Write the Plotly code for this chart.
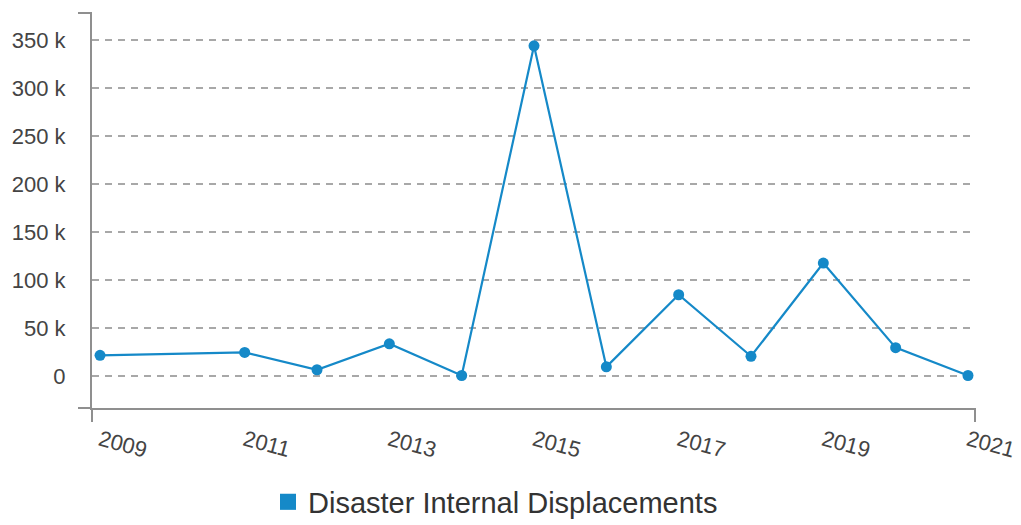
import plotly.graph_objects as go

years = [2009, 2011, 2012, 2013, 2014, 2015, 2016, 2017, 2018, 2019, 2020, 2021]
displacements = [22000, 25000, 7000, 34000, 1000, 344000, 10000, 85000, 21000, 118000, 30000, 1000]
series_name = "Disaster Internal Displacements"

x_tick_vals = [2009, 2011, 2013, 2015, 2017, 2019, 2021]
x_tick_text = ["2009", "2011", "2013", "2015", "2017", "2019", "2021"]
y_tick_vals = [0, 50000, 100000, 150000, 200000, 250000, 300000, 350000]
y_tick_text = ["0", "50 k", "100 k", "150 k", "200 k", "250 k", "300 k", "350 k"]

BLUE = "#1589c8"
AXIS = "#8f8f8f"
TXT = "#444444"
FONT = "Liberation Sans, Arial, sans-serif"

fig = go.Figure()
fig.add_trace(go.Scatter(
    x=years, y=displacements, mode="lines+markers",
    line=dict(color=BLUE, width=2.2),
    marker=dict(color=BLUE, size=11),
    showlegend=False, hoverinfo="x+y",
))
fig.add_trace(go.Scatter(
    x=[None], y=[None], mode="markers",
    marker=dict(color=BLUE, size=20, symbol="square"),
    name=series_name, showlegend=True,
))

W, H = 1021, 525
L, R, T, B = 92, 46, 13, 117
pw, ph = W - L - R, H - T - B

fig.update_layout(
    width=W, height=H,
    margin=dict(l=L, r=R, t=T, b=B, autoexpand=False),
    paper_bgcolor="white", plot_bgcolor="white",
    font=dict(family=FONT, color=TXT, size=22),
    showlegend=True,
    legend=dict(
        orientation="h", x=(268 - L) / pw, xanchor="left",
        y=(T + ph - 502) / ph, yanchor="middle",
        font=dict(size=29, color="#333333"),
        itemwidth=30,
    ),
    xaxis=dict(
        range=[2008.889, 2021.097],
        tickvals=x_tick_vals, ticktext=x_tick_text,
        tickangle=15,
        showgrid=False, zeroline=False,
        showline=True, linecolor=AXIS, linewidth=2,
        ticks="outside", ticklen=9, tickcolor="rgba(0,0,0,0)",
        tickfont=dict(size=22, color=TXT),
    ),
    yaxis=dict(
        range=[-32800, 378100],
        tickvals=y_tick_vals, ticktext=y_tick_text,
        showgrid=True, gridcolor="#a8a8a8", gridwidth=1.5, griddash="7px,6px",
        zeroline=False,
        showline=True, linecolor=AXIS, linewidth=2,
        ticks="outside", ticklen=20, tickcolor="rgba(0,0,0,0)",
        tickfont=dict(size=22, color=TXT),
    ),
)

tick = 14
shapes = [
    dict(type="line", xref="paper", yref="paper", x0=-tick / pw, x1=0, y0=1, y1=1,
         line=dict(color=AXIS, width=2)),
    dict(type="line", xref="paper", yref="paper", x0=-tick / pw, x1=0, y0=0, y1=0,
         line=dict(color=AXIS, width=2)),
    dict(type="line", xref="paper", yref="paper", x0=0, x1=0, y0=0, y1=-tick / ph,
         line=dict(color=AXIS, width=2)),
    dict(type="line", xref="paper", yref="paper", x0=1, x1=1, y0=0, y1=-tick / ph,
         line=dict(color=AXIS, width=2)),
]
fig.update_layout(shapes=shapes)

fig.write_html("out.html")
